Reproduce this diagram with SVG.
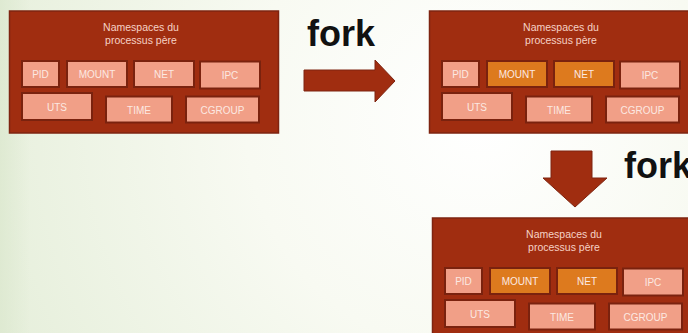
<svg xmlns="http://www.w3.org/2000/svg" width="688" height="333" viewBox="0 0 688 333">
<defs>
<radialGradient id="bg" cx="480" cy="120" r="520" gradientUnits="userSpaceOnUse">
<stop offset="0" stop-color="#FFFFFF"/>
<stop offset="0.45" stop-color="#F8FAF2"/>
<stop offset="1" stop-color="#E6EFDB"/>
</radialGradient>
<linearGradient id="edge" x1="0" y1="0" x2="1" y2="0">
<stop offset="0" stop-color="#DCE8CF" stop-opacity="0.8"/>
<stop offset="1" stop-color="#DCE8CF" stop-opacity="0"/>
</linearGradient>
</defs>
<style>
.outer{fill:#A02D10;stroke:#7E2410;stroke-width:1.5}
.pale{fill:#F19F87;stroke:#7A220E;stroke-width:2}
.orange{fill:#DD7A1E;stroke:#7A220E;stroke-width:2}
.lbl{font-family:"Liberation Sans",Arial,sans-serif;font-size:10px;fill:#FCE9E2;text-anchor:middle}
.title{font-family:"Liberation Sans",Arial,sans-serif;font-size:10.5px;fill:#F6D2C6;text-anchor:middle}
.fork{font-family:"Liberation Sans",Arial,sans-serif;font-size:36px;font-weight:bold;fill:#111111}
.arrow{fill:#A02D10;stroke:#7E2410;stroke-width:1}
</style>
<rect width="688" height="333" fill="url(#bg)"/>
<rect width="30" height="333" fill="url(#edge)"/>

<g id="parent">
<rect class="outer" x="9.5" y="11" width="269" height="122"/>
<text class="title" x="141" y="31">Namespaces du</text>
<text class="title" x="141" y="44">processus père</text>
<rect class="pale" x="22" y="61" width="37" height="26"/>
<text class="lbl" x="40.5" y="77.5">PID</text>
<rect class="pale" x="67" y="61" width="60" height="26"/>
<text class="lbl" x="97" y="77.5">MOUNT</text>
<rect class="pale" x="134" y="61" width="60" height="26"/>
<text class="lbl" x="164" y="77.5">NET</text>
<rect class="pale" x="200" y="61.5" width="60" height="27"/>
<text class="lbl" x="230" y="79">IPC</text>
<rect class="pale" x="22" y="93" width="70" height="27"/>
<text class="lbl" x="57" y="111">UTS</text>
<rect class="pale" x="106" y="96.5" width="66" height="26"/>
<text class="lbl" x="139" y="114">TIME</text>
<rect class="pale" x="186" y="96.5" width="73" height="26"/>
<text class="lbl" x="222.5" y="114">CGROUP</text>
</g>

<g id="child1">
<rect class="outer" x="429.5" y="11" width="269" height="122"/>
<text class="title" x="561" y="31">Namespaces du</text>
<text class="title" x="561" y="44">processus père</text>
<rect class="pale" x="442" y="61" width="37" height="26"/>
<text class="lbl" x="460.5" y="77.5">PID</text>
<rect class="orange" x="487" y="61" width="60" height="26"/>
<text class="lbl" x="517" y="77.5">MOUNT</text>
<rect class="orange" x="554" y="61" width="60" height="26"/>
<text class="lbl" x="584" y="77.5">NET</text>
<rect class="pale" x="620" y="61.5" width="60" height="27"/>
<text class="lbl" x="650" y="79">IPC</text>
<rect class="pale" x="442" y="93" width="70" height="27"/>
<text class="lbl" x="477" y="111">UTS</text>
<rect class="pale" x="526" y="96.5" width="66" height="26"/>
<text class="lbl" x="559" y="114">TIME</text>
<rect class="pale" x="606" y="96.5" width="73" height="26"/>
<text class="lbl" x="642.5" y="114">CGROUP</text>
</g>

<g id="child2">
<rect class="outer" x="432.5" y="218" width="269" height="122"/>
<text class="title" x="564" y="238">Namespaces du</text>
<text class="title" x="564" y="251">processus père</text>
<rect class="pale" x="445" y="268" width="37" height="26"/>
<text class="lbl" x="463.5" y="284.5">PID</text>
<rect class="orange" x="490" y="268" width="60" height="26"/>
<text class="lbl" x="520" y="284.5">MOUNT</text>
<rect class="orange" x="557" y="268" width="60" height="26"/>
<text class="lbl" x="587" y="284.5">NET</text>
<rect class="pale" x="623" y="268.5" width="60" height="27"/>
<text class="lbl" x="653" y="286">IPC</text>
<rect class="pale" x="445" y="300" width="70" height="27"/>
<text class="lbl" x="480" y="318">UTS</text>
<rect class="pale" x="529" y="303.5" width="66" height="26"/>
<text class="lbl" x="562" y="321">TIME</text>
<rect class="pale" x="609" y="303.5" width="73" height="26"/>
<text class="lbl" x="645.5" y="321">CGROUP</text>
</g>

<g id="connectors">
<path class="arrow" d="M304,70 L375,70 L375,60 L395,81 L375,102 L375,91 L304,91 Z"/>
<text class="fork" x="307" y="46">fork</text>
<path class="arrow" d="M551,151 L592,151 L592,178 L607,178 L575,207 L543,178 L551,178 Z"/>
<text class="fork" x="624" y="178">fork</text>
</g>
</svg>
